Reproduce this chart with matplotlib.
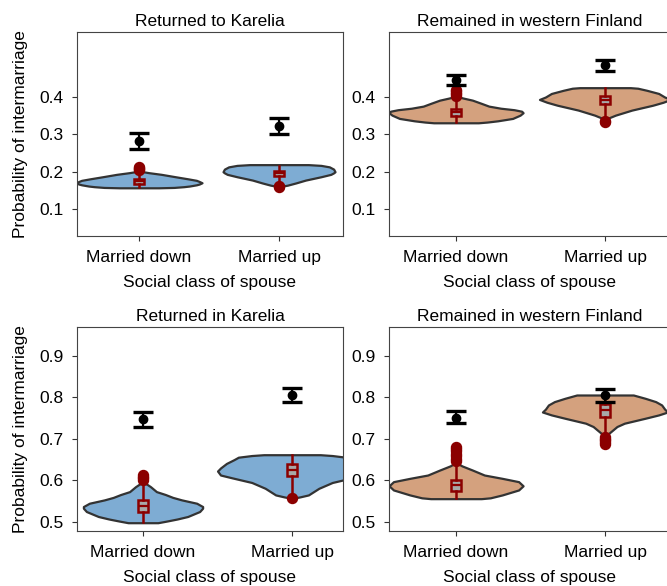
import matplotlib
matplotlib.use("Agg")
import matplotlib.pyplot as plt
import numpy as np

plt.rcParams['font.family'] = ['Liberation Sans', 'DejaVu Sans']

# ---------------- data ----------------
categories = ["Married down", "Married up"]
titles = ["Returned to Karelia", "Remained in western Finland",
          "Returned in Karelia", "Remained in western Finland"]
yticks_top = [0.1, 0.2, 0.3, 0.4]
yticks_bottom = [0.5, 0.6, 0.7, 0.8, 0.9]

# observed probabilities (black points) with CI: [down, up]
tl_obs = [0.282, 0.323]; tl_lo = [0.261, 0.3015]; tl_hi = [0.304, 0.345]
tr_obs = [0.445, 0.485]; tr_lo = [0.432, 0.470]; tr_hi = [0.458, 0.499]
bl_obs = [0.748, 0.807]; bl_lo = [0.728, 0.790]; bl_hi = [0.765, 0.824]
br_obs = [0.751, 0.806]; br_lo = [0.7375, 0.788]; br_hi = [0.768, 0.820]

# simulated distributions: violin profiles (value, scaled density half-width)
tl_down_v = [0.157, 0.158, 0.160, 0.1617, 0.165, 0.167, 0.1705, 0.174, 0.177, 0.181, 0.1866, 0.193, 0.1975, 0.2018]
tl_down_d = [0.14, 0.25, 0.32, 0.36, 0.41, 0.43, 0.45, 0.43, 0.41, 0.35, 0.26, 0.16, 0.07, 0.0]
tl_up_v = [0.160, 0.164, 0.170, 0.1777, 0.1866, 0.193, 0.197, 0.200, 0.207, 0.213, 0.217, 0.219]
tl_up_d = [0.0, 0.06, 0.12, 0.19, 0.30, 0.37, 0.39, 0.40, 0.39, 0.36, 0.30, 0.21]
tr_down_v = [0.331, 0.333, 0.3363, 0.3427, 0.3515, 0.358, 0.362, 0.366, 0.370, 0.3756, 0.383, 0.3916, 0.397, 0.402]
tr_down_d = [0.15, 0.21, 0.28, 0.38, 0.43, 0.45, 0.44, 0.39, 0.30, 0.22, 0.17, 0.11, 0.05, 0.0]
tr_up_v = [0.340, 0.345, 0.3515, 0.365, 0.378, 0.386, 0.3935, 0.400, 0.4095, 0.418, 0.4235, 0.425]
tr_up_d = [0.0, 0.03, 0.07, 0.18, 0.32, 0.39, 0.44, 0.40, 0.36, 0.28, 0.22, 0.17]
bl_down_v = [0.498, 0.502, 0.507, 0.513, 0.519, 0.525, 0.533, 0.537, 0.545, 0.553, 0.559, 0.566, 0.573, 0.585, 0.597]
bl_down_d = [0.10, 0.16, 0.23, 0.30, 0.34, 0.38, 0.40, 0.40, 0.36, 0.26, 0.20, 0.15, 0.09, 0.05, 0.0]
bl_up_v = [0.557, 0.560, 0.565, 0.581, 0.595, 0.606, 0.613, 0.6226, 0.630, 0.641, 0.650, 0.656, 0.660, 0.662]
bl_up_d = [0.0, 0.05, 0.11, 0.18, 0.27, 0.40, 0.48, 0.50, 0.48, 0.44, 0.39, 0.36, 0.27, 0.19]
br_down_v = [0.556, 0.558, 0.565, 0.577, 0.587, 0.597, 0.605, 0.613, 0.625, 0.635, 0.643]
br_down_d = [0.17, 0.23, 0.31, 0.42, 0.45, 0.42, 0.31, 0.19, 0.11, 0.04, 0.0]
br_up_v = [0.707, 0.712, 0.721, 0.730, 0.738, 0.750, 0.758, 0.765, 0.772, 0.782, 0.790, 0.798, 0.804, 0.806]
br_up_d = [0.0, 0.02, 0.05, 0.08, 0.13, 0.27, 0.36, 0.42, 0.40, 0.38, 0.34, 0.27, 0.21, 0.19]

# boxplot summaries: [med, q1, q3, whislo, whishi], fliers
tl_down_box = [0.175, 0.1685, 0.1815, 0.159, 0.203]; tl_down_fl = [0.205, 0.208, 0.211, 0.213]
tl_up_box = [0.196, 0.189, 0.203, 0.165, 0.215];   tl_up_fl = [0.159, 0.161]
tr_down_box = [0.359, 0.349, 0.369, 0.332, 0.400]; tr_down_fl = [0.403, 0.407, 0.411, 0.415, 0.418]
tr_up_box = [0.391, 0.380, 0.402, 0.345, 0.423];   tr_up_fl = [0.333, 0.336]
bl_down_box = [0.538, 0.523, 0.552, 0.500, 0.597]; bl_down_fl = [0.601, 0.605, 0.609, 0.613]
bl_up_box = [0.625, 0.611, 0.640, 0.565, 0.661];   bl_up_fl = [0.557]
br_down_box = [0.588, 0.575, 0.601, 0.557, 0.643]; br_down_fl = [0.647, 0.652, 0.658, 0.664, 0.670, 0.676, 0.681]
br_up_box = [0.770, 0.754, 0.785, 0.707, 0.800];   br_up_fl = [0.688, 0.692, 0.697, 0.701, 0.705]

# ---------------- styling ----------------
BLUE = "#7eacd3"
TAN = "#d4a17e"
RED = "#8b0000"
OUTLINE = "#333333"
FS = 12.5

W, H = 667, 586
fig = plt.figure(figsize=(W / 100, H / 100), dpi=100)


def px_axes(l, t, r, b):
    return fig.add_axes([l / W, 1 - b / H, (r - l) / W, (b - t) / H])


panels = [
    dict(rect=(77, 32, 343, 236), xlim=(0.557, 2.457), ylim=(0.028, 0.574), ticks=yticks_top,
         fill=BLUE, title=titles[0], ylabel=True,
         viol=[(tl_down_v, tl_down_d), (tl_up_v, tl_up_d)],
         box=[(tl_down_box, tl_down_fl), (tl_up_box, tl_up_fl)],
         obs=(tl_obs, tl_lo, tl_hi)),
    dict(rect=(389, 32, 670, 236), xlim=(0.550, 2.436), ylim=(0.028, 0.574), ticks=yticks_top,
         fill=TAN, title=titles[1], ylabel=False,
         viol=[(tr_down_v, tr_down_d), (tr_up_v, tr_up_d)],
         box=[(tr_down_box, tr_down_fl), (tr_up_box, tr_up_fl)],
         obs=(tr_obs, tr_lo, tr_hi)),
    dict(rect=(77, 327, 343, 531), xlim=(0.557, 2.342), ylim=(0.478, 0.970), ticks=yticks_bottom,
         fill=BLUE, title=titles[2], ylabel=True,
         viol=[(bl_down_v, bl_down_d), (bl_up_v, bl_up_d)],
         box=[(bl_down_box, bl_down_fl), (bl_up_box, bl_up_fl)],
         obs=(bl_obs, bl_lo, bl_hi)),
    dict(rect=(389, 327, 670, 531), xlim=(0.550, 2.436), ylim=(0.478, 0.970), ticks=yticks_bottom,
         fill=TAN, title=titles[3], ylabel=False,
         viol=[(br_down_v, br_down_d), (br_up_v, br_up_d)],
         box=[(br_down_box, br_down_fl), (br_up_box, br_up_fl)],
         obs=(br_obs, br_lo, br_hi)),
]

positions = [1, 2]

for p in panels:
    ax = px_axes(*p["rect"])
    # violins
    for pos, (v, d) in zip(positions, p["viol"]):
        v = np.asarray(v)
        d = np.asarray(d)
        ax.fill_betweenx(v, pos - d, pos + d, facecolor=p["fill"], edgecolor=OUTLINE,
                         linewidth=1.6, zorder=1, joinstyle="round")
    # boxplots
    for pos, (b, fl) in zip(positions, p["box"]):
        stats = [dict(med=b[0], q1=b[1], q3=b[2], whislo=b[3], whishi=b[4], fliers=fl)]
        ax.bxp(stats, positions=[pos], widths=0.065, patch_artist=True, showcaps=False,
               manage_ticks=False,
               boxprops=dict(facecolor="#a8a8a8", edgecolor=RED, linewidth=1.8),
               medianprops=dict(color=RED, linewidth=1.6),
               whiskerprops=dict(color=RED, linewidth=1.8),
               flierprops=dict(marker="o", markerfacecolor=RED, markeredgecolor=RED,
                               markersize=7.2),
               zorder=2)
    # observed with CI
    obs, lo, hi = p["obs"]
    obs = np.asarray(obs)
    yerr = [obs - np.asarray(lo), np.asarray(hi) - obs]
    ax.errorbar(positions, obs, yerr=yerr, fmt="o", color="black", markersize=6,
                elinewidth=1.6, capsize=7.2, capthick=2.4, zorder=3)

    ax.set_xlim(*p["xlim"])
    ax.set_ylim(*p["ylim"])
    ax.set_xticks(positions)
    ax.set_xticklabels(categories)
    ax.set_yticks(p["ticks"])
    ax.set_yticklabels([f"{t:.1f}" for t in p["ticks"]])
    ax.tick_params(axis="both", direction="out", length=3.4, width=0.8, colors="#333333",
                   labelcolor="black", labelsize=FS)
    ax.tick_params(axis="x", pad=6.7)
    ax.tick_params(axis="y", pad=6.5)
    for s in ax.spines.values():
        s.set_color("#444444")
        s.set_linewidth(0.8)
    ax.set_title(p["title"], fontsize=FS, pad=4)
    ax.set_xlabel("Social class of spouse", fontsize=FS, labelpad=7.5)
    if p["ylabel"]:
        ax.set_ylabel("Probability of intermarriage", fontsize=FS, labelpad=8)

fig.savefig("out.png", dpi=100)
